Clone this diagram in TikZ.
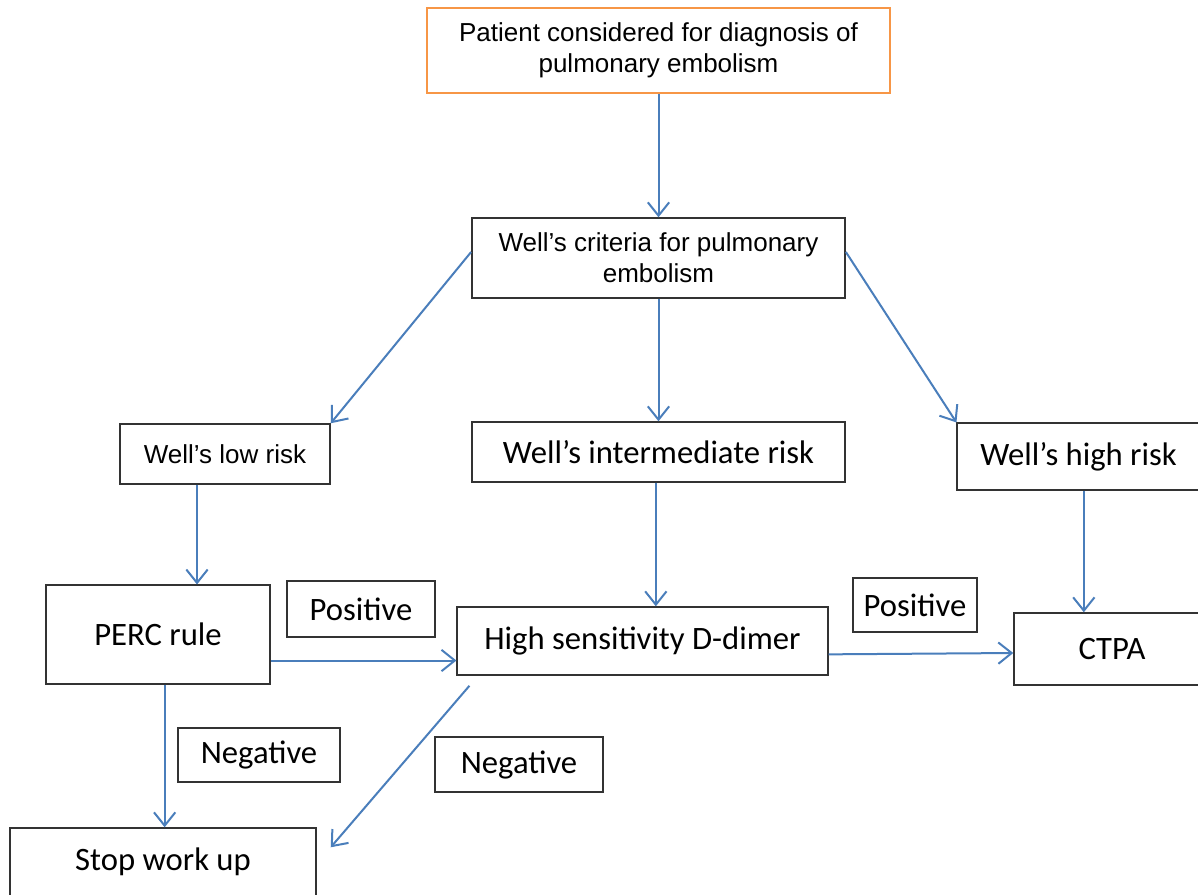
\documentclass[tikz,border=0pt]{standalone}
\usepackage{fontspec}
\setmainfont{Carlito}
\newfontfamily\arialfont{Liberation Sans}
\usetikzlibrary{arrows.meta}
\definecolor{pedge}{HTML}{F79646}
\definecolor{parrow}{HTML}{4A7EBB}
\tikzset{
    box/.style={draw=black!80,line width=1.1pt,fill=white,inner sep=0pt,align=center,
        font=\fontsize{24.5}{28}\selectfont},
    abox/.style={box,font=\arialfont\fontsize{19.5}{23}\selectfont},
    arr/.style={draw=parrow,line width=1.5pt,-{Straight Barb[length=10pt,width=16pt,line width=1.5pt]}}
}
\begin{document}
\begin{tikzpicture}[x=0.75pt,y=-0.75pt]
        \useasboundingbox (0,0) rectangle (1198,894);
        %% boxes
        \node[abox,draw=pedge,minimum width=347pt,minimum height=64pt] (start) at (658.5,50.5)
            {Patient considered for diagnosis of\\pulmonary embolism};
        \node[abox,minimum width=280pt,minimum height=60pt] (crit) at (658.5,258)
            {Well’s criteria for pulmonary\\embolism};
        \node[abox,minimum width=157.5pt,minimum height=45pt] (low) at (225,454) {Well’s low risk};
        \node[box,minimum width=280pt,minimum height=45pt] (inter) at (658.5,452) {Well’s intermediate risk};
        \node[box,minimum width=182pt,minimum height=50pt] (high) at (1078.5,456.5) {Well’s high risk};
        \node[box,minimum width=168pt,minimum height=74pt] (perc) at (158,634.5) {PERC rule};
        \node[box,minimum width=111pt,minimum height=42pt] (pos1) at (361,609) {Positive};
        \node[box,minimum width=278pt,minimum height=51pt] (ddim) at (642.5,641) {High sensitivity D-dimer};
        \node[box,minimum width=93pt,minimum height=40.5pt] (pos2) at (915,605) {Positive};
        \node[box,minimum width=147pt,minimum height=54pt] (ctpa) at (1112,649) {CTPA};
        \node[box,minimum width=121.5pt,minimum height=40.5pt] (neg1) at (259,755) {Negative};
        \node[box,minimum width=126pt,minimum height=41pt] (neg2) at (519,764.5) {Negative};
        \node[box,minimum width=229.5pt,minimum height=51pt] (stop) at (163,862) {Stop work up};
        %% arrows
        \draw[arr] (start.south) -- (crit.north);
        \draw[arr] ([yshift=4.5pt]crit.west) -- (low.north east);
        \draw[arr] (crit.south) -- (inter.north);
        \draw[arr] ([yshift=4.5pt]crit.east) -- (high.north west);
        \draw[arr] ([xshift=-21pt]low.south) -- ([xshift=-21pt]low.south |- perc.north);
        \draw[arr] ([xshift=-2pt]inter.south) -- ([xshift=-2pt]inter.south |- ddim.north);
        \draw[arr] ([xshift=4pt]high.south) -- ([xshift=4pt]high.south |- ctpa.north);
        \draw[arr] ([yshift=-19.5pt]perc.east) -- ([yshift=-19.5pt]perc.east -| ddim.west);
        \draw[arr] ([yshift=-10pt]ddim.east) -- ([yshift=-3pt]ctpa.west);
        \draw[arr] ([xshift=5pt]perc.south) -- ([xshift=5pt]perc.south |- stop.north);
        \draw[arr] ([shift={(13,10)}]ddim.south west) -- ([shift={(14,20)}]stop.north east);
    \end{tikzpicture}
\end{document}
